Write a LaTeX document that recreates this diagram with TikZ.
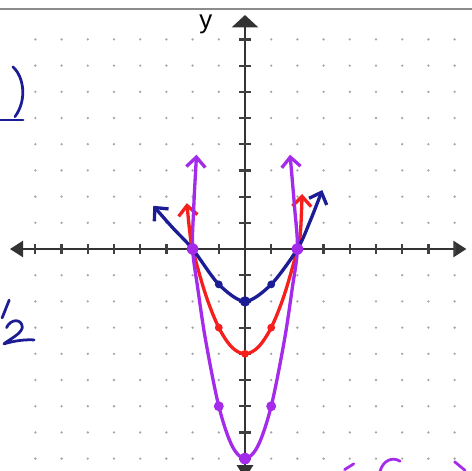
\documentclass[tikz,border=0pt]{standalone}
\usepackage{fontspec}
\setmainfont{Liberation Sans}
\usetikzlibrary{arrows.meta}
\definecolor{navyink}{HTML}{1C1C94}
\definecolor{redink}{HTML}{F5201E}
\definecolor{purpleink}{HTML}{A42BEA}
\definecolor{topgray}{HTML}{8C8C8C}
\tikzset{
    axisline/.style = {
        line width = 2.2pt,
        draw = black!80
    },
    axistip/.style = {
        {Triangle[length=0.5cm,width=0.62cm]}-{Triangle[length=0.5cm,width=0.62cm]}
    },
    tickmark/.style = {
        line width = 2.4pt,
        draw = black!75
    },
    griddot/.style = {
        fill = black!35
    },
    curve/.style = {
        line width = 3.6pt,
        line cap = round,
        line join = round
    },
    curvetip/.style = {
        {Straight Barb[length=0.38cm,width=0.72cm]}-{Straight Barb[length=0.38cm,width=0.72cm]}
    },
    ink/.style = {
        line width = 3pt,
        line cap = round,
        line join = round
    }
}

\begin{document}
\begin{tikzpicture}
    \useasboundingbox (-9.351,-8.435) rectangle (8.664,9.504);
    % frame line at the top
    \draw[topgray, line width=3pt] (-9.351,9.16) -- (8.664,9.16);
%dotted grid
    \foreach \x in {-8,...,8}
        \foreach \y in {-8,...,8}
            \fill[griddot] (\x,\y) circle (1.4pt);
%axes
    \coordinate (xl) at (-8.97,0);
    \coordinate (xr) at (8.45,0);
    \coordinate (yb) at (0,-8.75);
    \coordinate (yt) at (0,8.93);
    \draw[axisline, axistip] (xl) -- (xr);
    \draw[axisline, {Triangle[length=0.5cm,width=0.62cm]}-{Triangle[length=0.47cm,width=1cm]}] (yb) -- (yt);
    \foreach \t in {-8,...,-1,1,2,...,8} {
        \draw[tickmark] (\t,-0.2) -- (\t,0.2);
        \draw[tickmark] (-0.22,\t) -- (0.22,\t);
    }
    \node (ylab) [anchor=base, font=\fontsize{28}{28}\selectfont, inner sep=0pt] at (-1.5,8.42) {y};

%red curve
    \draw[curve, curvetip, redink] plot[smooth, tension=0.55] coordinates {(-2.22,1.75) (-2.1,0.6) (-2,0) (-1.5,-1.75) (-1,-3) (-0.5,-3.75) (0,-4) (0.5,-3.75) (1,-3) (1.5,-1.75) (2,0) (2.12,0.7) (2.18,2.1)};
    \foreach \p in {(-1,-3),(1,-3),(0,-4)}
        \fill[redink] \p circle (0.15);

%purple curve
    \draw[curve, curvetip, purpleink] plot[smooth, tension=0.55] coordinates {(-1.85,3.6) (-1.96,1.5) (-2,0) (-1.8,-1.52) (-1.5,-3.5) (-1,-6) (-0.5,-7.5) (0,-8) (0.5,-7.5) (1,-6) (1.5,-3.5) (1.8,-1.52) (2,0) (1.9,1.5) (1.72,3.6)};

%blue curve
    \draw[curve, curvetip, navyink] plot[smooth, tension=0.5] coordinates {(-3.5,1.65) (-2.75,0.8) (-2,0) (-1,-1.35) (0,-2) (1,-1.35) (2,0) (2.5,1.1) (2.95,2.25)};
    \foreach \p/\r in {(0,-2)/0.2,(1,-1.35)/0.15,(-1,-1.35)/0.15}
        \fill[navyink] \p circle (\r);

    \foreach \p/\r in {(-2,0)/0.22,(2,0)/0.22,(-1,-6)/0.19,(1,-6)/0.19,(0,-8)/0.22}
        \fill[purpleink] \p circle (\r);

%handwriting at the edges
    \draw[ink, navyink] (-8.86,6.95) .. controls (-8.45,6.6) and (-8.3,5.7) .. (-8.78,5.05);
    \draw[ink, navyink] (-9.35,4.92) -- (-8.47,4.92);
    \draw[ink, navyink] (-9.0,-1.95) -- (-9.27,-2.63);
    \draw[ink, navyink] (-9.1,-3.0) .. controls (-8.95,-2.65) and (-8.5,-2.65) .. (-8.5,-3.0) .. controls (-8.55,-3.25) and (-9.0,-3.45) .. (-9.2,-3.62) .. controls (-8.8,-3.5) and (-8.4,-3.45) .. (-8.05,-3.47);
    \draw[ink, purpleink] (3.8,-8.42) -- (4.15,-8.2);
    \draw[ink, purpleink] (5.15,-8.5) .. controls (5.25,-8.1) and (5.6,-7.9) .. (5.92,-8.1);
    \draw[ink, purpleink] (8.0,-8.12) -- (8.4,-8.45);
\end{tikzpicture}
\end{document}
